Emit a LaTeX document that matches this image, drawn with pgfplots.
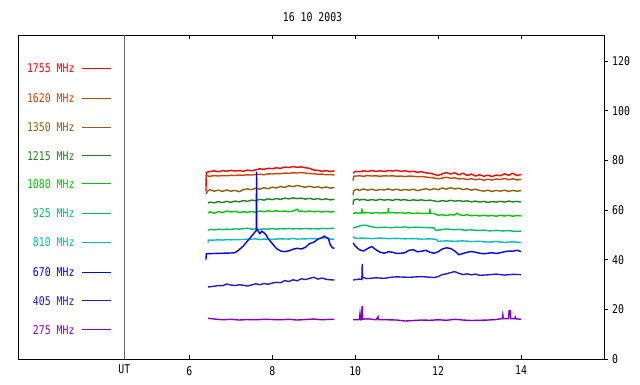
\documentclass[border=0pt]{standalone}
\usepackage{fontspec}
\setmainfont{DejaVu Sans Mono}[FakeStretch=0.82]
\setmonofont{DejaVu Sans Mono}[FakeStretch=0.82]
\usepackage{pgfplots}
\pgfplotsset{compat=1.18}
\definecolor{c1755}{RGB}{255,0,0}
\definecolor{c1620}{RGB}{200,70,0}
\definecolor{c1350}{RGB}{140,95,10}
\definecolor{c1215}{RGB}{30,130,30}
\definecolor{c1080}{RGB}{0,200,0}
\definecolor{c925}{RGB}{0,190,100}
\definecolor{c810}{RGB}{0,190,190}
\definecolor{c670}{RGB}{0,0,255}
\definecolor{c405}{RGB}{30,30,200}
\definecolor{c275}{RGB}{130,0,200}
\newcommand{\lblfont}{\fontsize{12bp}{14bp}\selectfont}
\begin{document}
\lblfont
\begin{tikzpicture}[x=1bp,y=1bp]
\useasboundingbox (0,0) rectangle (640,384);
\begin{axis}[
  at={(18.3bp,25bp)}, anchor=south west,
  scale only axis, width=585.7bp, height=324bp,
  xmin=1.875, xmax=16, ymin=0, ymax=130.5,
  clip=false,
  axis line style={black, line width=0.9bp},
  unbounded coords=jump,
  xtick={6,8,10,12,14},
  xtick pos=both, xtick align=inside,
  ytick={0,20,40,60,80,100,120},
  ytick pos=right, yticklabel pos=right,
  ytick align=outside,
  major tick length=4bp,
  tick style={black, line width=0.8bp},
  xticklabel style={font=\lblfont, yshift=-3bp},
  yticklabel style={font=\lblfont, xshift=0bp},
  /pgf/number format/assume math mode=true,
  every axis plot/.append style={line width=1.4bp, mark=none},
]
\draw[gray!80!black, line width=0.9bp] (axis cs:4.434,0) -- (axis cs:4.434,130.5);
\node[anchor=north, font=\lblfont, yshift=-2bp] at (axis cs:4.434,0) {UT};
\node[font=\lblfont] at (axis cs:8.97,137.5) {16 10 2003};
% legend entries
\addplot[c1755, line width=1bp] coordinates {(3.415,117.2) (4.113,117.2)};
\addplot[c1620, line width=1bp] coordinates {(3.415,105.1) (4.113,105.1)};
\addplot[c1350, line width=1bp] coordinates {(3.415,93.4) (4.113,93.4)};
\addplot[c1215, line width=1bp] coordinates {(3.415,81.8) (4.113,81.8)};
\addplot[c1080, line width=1bp] coordinates {(3.415,70.5) (4.113,70.5)};
\addplot[c925, line width=1bp] coordinates {(3.415,58.8) (4.113,58.8)};
\addplot[c810, line width=1bp] coordinates {(3.415,47.1) (4.113,47.1)};
\addplot[c670, line width=1bp] coordinates {(3.415,35.0) (4.113,35.0)};
\addplot[c405, line width=1bp] coordinates {(3.415,23.4) (4.113,23.4)};
\addplot[c275, line width=1bp] coordinates {(3.415,11.7) (4.113,11.7)};
\node[anchor=east, text=c1755] at (axis cs:3.33,117.2) {1755 MHz};
\node[anchor=east, text=c1620] at (axis cs:3.33,105.1) {1620 MHz};
\node[anchor=east, text=c1350] at (axis cs:3.33,93.4) {1350 MHz};
\node[anchor=east, text=c1215] at (axis cs:3.33,81.8) {1215 MHz};
\node[anchor=east, text=c1080] at (axis cs:3.33,70.5) {1080 MHz};
\node[anchor=east, text=c925] at (axis cs:3.33,58.8) {925 MHz};
\node[anchor=east, text=c810] at (axis cs:3.33,47.1) {810 MHz};
\node[anchor=east, text=c670] at (axis cs:3.33,35.0) {670 MHz};
\node[anchor=east, text=c405] at (axis cs:3.33,23.4) {405 MHz};
\node[anchor=east, text=c275] at (axis cs:3.33,11.7) {275 MHz};
% 1755 MHz
\addplot[c1755] coordinates {(6.40,67.5) (6.41,75.2) (6.5,75.5) (6.6,75.8) (6.7,75.4) (6.8,75.9) (6.9,75.6) (7.0,76.0) (7.1,75.7) (7.2,75.9) (7.3,75.6) (7.4,76.1) (7.5,75.8) (7.6,76.2) (7.7,76.6) (7.8,76.4) (7.9,76.8) (8.0,76.7) (8.1,77.0) (8.2,76.8) (8.3,77.3) (8.4,77.1) (8.5,77.5) (8.6,77.2) (8.7,77.4) (8.8,77.0) (8.9,76.8) (9.0,76.1) (9.1,76.0) (9.2,75.6) (9.3,75.9) (9.4,75.5) (9.5,75.8)
 (9.7,nan)
 (9.95,74.8) (10.0,75.6) (10.1,75.4) (10.2,75.8) (10.3,75.5) (10.4,75.9) (10.5,75.6) (10.6,75.8) (10.7,75.5) (10.8,75.9) (10.9,75.7) (11.0,76.0) (11.1,75.6) (11.2,75.8) (11.3,75.4) (11.4,75.6) (11.5,75.2) (11.6,75.4) (11.7,75.0) (11.8,74.8) (11.9,74.4) (12.0,73.9) (12.1,74.6) (12.2,75.1) (12.3,74.5) (12.4,75.0) (12.5,74.2) (12.6,74.8) (12.7,73.9) (12.8,74.5) (12.9,73.7) (13.0,74.2) (13.1,73.6) (13.2,74.0) (13.3,73.5) (13.4,74.1) (13.5,73.8) (13.6,74.6) (13.7,74.0) (13.8,74.8) (13.9,73.9) (14.0,74.3)};
% 1620 MHz
\addplot[c1620] coordinates {(6.40,72.0) (6.41,73.8) (6.5,73.6) (6.6,73.9) (6.7,73.7) (6.8,73.9) (6.9,73.8) (7.0,74.0) (7.1,73.9) (7.2,74.1) (7.3,74.0) (7.4,74.2) (7.5,74.1) (7.6,74.3) (7.7,74.4) (7.8,74.2) (7.9,74.6) (8.0,74.5) (8.1,74.7) (8.2,74.6) (8.3,74.9) (8.4,74.8) (8.5,75.0) (8.6,74.9) (8.7,75.1) (8.8,74.9) (8.9,74.7) (9.0,74.6) (9.1,74.4) (9.2,74.5) (9.3,74.2) (9.4,74.3) (9.5,74.1)
 (9.7,nan)
 (9.95,71.8) (9.96,73.6) (10.1,73.8) (10.2,73.6) (10.3,73.9) (10.4,73.7) (10.5,73.8) (10.6,73.6) (10.7,73.8) (10.8,73.7) (10.9,73.8) (11.0,73.6) (11.1,73.7) (11.2,73.5) (11.3,73.7) (11.4,73.6) (11.5,73.4) (11.6,73.5) (11.7,73.3) (11.8,73.1) (11.9,72.9) (12.0,72.6) (12.1,72.9) (12.2,73.2) (12.3,72.8) (12.4,73.0) (12.5,72.5) (12.6,72.7) (12.7,72.3) (12.8,72.6) (12.9,72.2) (13.0,72.5) (13.1,72.0) (13.2,72.4) (13.3,72.1) (13.4,72.5) (13.5,72.3) (13.6,72.7) (13.7,72.2) (13.8,72.6) (13.9,72.1) (14.0,72.4)};
% 1350 MHz
\addplot[c1350] coordinates {(6.40,66.5) (6.45,67.8) (6.5,68.2) (6.6,67.6) (6.7,68.0) (6.8,67.5) (6.9,68.1) (7.0,67.6) (7.1,67.9) (7.2,67.4) (7.3,68.2) (7.4,68.5) (7.5,68.2) (7.6,68.8) (7.7,68.4) (7.8,69.0) (7.9,68.6) (8.0,69.2) (8.1,68.9) (8.2,69.5) (8.3,69.1) (8.4,69.8) (8.5,69.4) (8.6,69.9) (8.7,69.5) (8.8,69.2) (8.9,69.6) (9.0,69.1) (9.1,69.4) (9.2,68.9) (9.3,69.3) (9.4,68.8) (9.5,69.1)
 (9.7,nan)
 (9.95,66.0) (9.96,67.8) (10.05,68.4) (10.1,67.9) (10.2,68.5) (10.3,68.0) (10.4,68.4) (10.5,67.9) (10.6,68.3) (10.7,68.1) (10.8,68.5) (10.9,68.0) (11.0,68.4) (11.1,67.9) (11.2,68.3) (11.3,68.0) (11.4,68.4) (11.5,67.8) (11.6,68.2) (11.7,68.6) (11.8,68.1) (11.9,68.6) (12.0,68.2) (12.1,68.9) (12.2,68.4) (12.3,69.0) (12.4,68.5) (12.5,68.8) (12.6,68.2) (12.7,68.6) (12.8,68.0) (12.9,68.4) (13.0,67.9) (13.1,67.6) (13.2,68.0) (13.3,67.5) (13.4,67.9) (13.5,67.6) (13.6,68.0) (13.7,67.5) (13.8,67.9) (13.9,67.6) (14.0,67.8)};
% 1215 MHz
\addplot[c1215] coordinates {(6.45,62.8) (6.5,63.2) (6.6,62.9) (6.7,63.4) (6.8,63.0) (6.9,63.5) (7.0,63.1) (7.1,63.6) (7.2,63.3) (7.3,63.8) (7.4,63.5) (7.5,64.0) (7.6,63.8) (7.7,64.3) (7.8,64.0) (7.9,64.5) (8.0,64.2) (8.1,64.6) (8.2,64.3) (8.3,64.8) (8.4,64.5) (8.5,64.9) (8.6,64.6) (8.7,64.8) (8.8,64.4) (8.9,64.7) (9.0,64.3) (9.1,64.6) (9.2,64.2) (9.3,64.5) (9.4,64.1) (9.5,64.3)
 (9.7,nan)
 (9.95,62.2) (9.96,64.0) (10.05,64.4) (10.1,64.0) (10.2,64.3) (10.3,63.9) (10.4,64.2) (10.5,63.9) (10.6,64.3) (10.7,64.0) (10.8,64.2) (10.9,63.9) (11.0,64.3) (11.1,64.0) (11.2,64.2) (11.3,63.8) (11.4,64.1) (11.5,63.9) (11.6,64.1) (11.7,63.8) (11.8,64.0) (11.9,63.7) (12.0,63.4) (12.1,63.8) (12.2,63.5) (12.3,63.9) (12.4,63.6) (12.5,63.8) (12.6,63.5) (12.7,63.7) (12.8,63.3) (12.9,63.6) (13.0,63.2) (13.1,63.5) (13.2,63.1) (13.3,63.4) (13.4,63.2) (13.5,63.5) (13.6,63.2) (13.7,63.6) (13.8,63.3) (13.9,63.5) (14.0,63.2)};
% 1080 MHz
\addplot[c1080] coordinates {(6.45,58.8) (6.5,59.3) (6.6,58.7) (6.7,59.4) (6.8,59.0) (6.9,59.6) (7.0,59.2) (7.1,59.5) (7.2,59.0) (7.3,59.3) (7.4,59.1) (7.5,59.4) (7.6,59.1) (7.7,59.6) (7.8,59.3) (7.9,59.7) (8.0,59.4) (8.1,59.7) (8.2,59.4) (8.3,59.6) (8.4,59.3) (8.5,59.6) (8.6,60.3) (8.65,59.4) (8.7,59.6) (8.8,59.3) (8.9,59.6) (9.0,59.3) (9.1,59.5) (9.2,59.2) (9.3,59.5) (9.4,59.2) (9.5,59.3)
 (9.7,nan)
 (9.95,58.6) (10.0,58.9) (10.1,58.7) (10.15,58.9) (10.16,60.6) (10.17,58.8) (10.3,59.0) (10.4,58.7) (10.5,59.0) (10.6,58.8) (10.79,58.9) (10.8,60.8) (10.81,58.9) (10.9,59.0) (11.0,58.8) (11.1,59.0) (11.2,58.7) (11.3,58.9) (11.4,58.6) (11.5,58.8) (11.6,58.6) (11.79,58.7) (11.8,60.5) (11.81,58.6) (11.9,58.6) (12.0,57.9) (12.1,58.1) (12.2,57.8) (12.3,58.1) (12.4,58.0) (12.45,58.7) (12.5,58.2) (12.6,57.8) (12.7,58.1) (12.8,57.7) (12.9,57.9) (13.0,57.6) (13.1,57.9) (13.2,57.6) (13.3,57.8) (13.4,57.5) (13.5,57.9) (13.6,57.6) (13.7,57.9) (13.8,57.5) (13.9,57.8) (14.0,57.6)};
% 925 MHz
\addplot[c925] coordinates {(6.45,51.8) (6.5,52.2) (6.6,52.0) (6.7,52.3) (6.8,52.1) (6.9,52.3) (7.0,52.2) (7.1,52.4) (7.2,52.3) (7.3,52.5) (7.4,52.7) (7.5,52.3) (7.6,52.4) (7.7,52.2) (7.8,52.4) (7.9,52.3) (8.0,52.5) (8.1,52.3) (8.2,52.5) (8.3,52.4) (8.4,52.6) (8.5,52.4) (8.6,52.5) (8.7,52.4) (8.8,52.6) (8.9,52.4) (9.0,52.5) (9.1,52.4) (9.2,52.6) (9.3,52.5) (9.4,52.6) (9.5,52.6)
 (9.7,nan)
 (9.95,52.8) (10.05,53.3) (10.15,53.8) (10.25,53.9) (10.35,53.4) (10.45,53.1) (10.55,52.9) (10.7,53.1) (10.85,52.9) (11.0,53.1) (11.1,53.0) (11.2,53.2) (11.3,52.9) (11.45,53.1) (11.6,53.0) (11.75,52.9) (11.9,52.8) (11.95,51.8) (12.05,52.0) (12.2,52.4) (12.35,52.1) (12.5,52.2) (12.65,51.9) (12.8,52.0) (12.95,51.8) (13.1,51.9) (13.25,51.6) (13.4,51.8) (13.55,51.6) (13.7,51.7) (13.85,51.4) (14.0,51.5)};
% 810 MHz
\addplot[c810] coordinates {(6.45,46.9) (6.46,47.9) (6.6,47.9) (6.7,48.0) (6.8,47.9) (6.9,48.1) (7.0,48.0) (7.2,48.1) (7.4,48.2) (7.6,48.4) (7.7,48.1) (7.8,48.3) (8.0,48.2) (8.2,48.4) (8.4,48.3) (8.5,48.6) (8.6,48.3) (8.8,48.4) (9.0,48.5) (9.1,48.4) (9.2,48.9) (9.3,48.7) (9.4,48.3) (9.5,48.3)
 (9.7,nan)
 (9.95,49.3) (10.0,48.6) (10.2,48.7) (10.4,48.5) (10.6,48.7) (10.8,48.5) (11.0,48.6) (11.2,48.4) (11.4,48.5) (11.6,48.3) (11.8,48.4) (11.95,48.2) (12.0,47.4) (12.2,47.6) (12.4,47.4) (12.6,47.6) (12.8,47.3) (13.0,47.4) (13.2,47.1) (13.4,47.3) (13.6,47.0) (13.8,47.2) (14.0,46.9)};
% 670 MHz
\addplot[c670] coordinates {(6.40,40.0) (6.41,42.4) (6.6,42.5) (6.8,42.6) (7.0,42.7) (7.1,42.8) (7.2,44.0) (7.3,45.5) (7.4,47.5) (7.5,49.5) (7.6,51.5) (7.615,51.8) (7.62,75.5) (7.625,51.8) (7.64,52.0) (7.7,50.5) (7.75,51.5) (7.8,50.8) (7.85,50.0) (7.9,48.5) (8.0,46.5) (8.1,44.5) (8.2,43.5) (8.3,43.2) (8.4,43.6) (8.5,44.2) (8.6,44.6) (8.7,44.3) (8.8,45.0) (8.9,46.5) (9.0,47.0) (9.1,48.3) (9.2,48.8) (9.25,49.5) (9.3,49.0) (9.35,48.6) (9.4,46.0) (9.45,44.8) (9.5,44.6)
 (9.7,nan)
 (9.95,46.8) (10.0,45.5) (10.1,44.0) (10.2,43.5) (10.3,44.5) (10.4,45.3) (10.5,44.0) (10.6,43.0) (10.7,42.6) (10.8,43.2) (10.9,43.0) (11.0,42.5) (11.1,42.6) (11.2,42.8) (11.3,43.8) (11.4,44.0) (11.5,43.2) (11.6,43.4) (11.7,43.8) (11.8,43.0) (11.9,42.6) (12.0,43.2) (12.1,44.3) (12.2,44.8) (12.3,44.5) (12.4,43.5) (12.5,42.0) (12.6,42.5) (12.7,43.0) (12.8,43.3) (12.9,43.0) (13.0,42.6) (13.1,42.4) (13.2,42.6) (13.3,42.8) (13.4,42.5) (13.5,42.8) (13.6,43.2) (13.7,43.5) (13.8,43.4) (13.9,43.8) (14.0,43.3)};
% 405 MHz
\addplot[c405] coordinates {(6.45,29.0) (6.6,29.3) (6.7,29.6) (6.8,29.5) (6.9,30.2) (7.0,29.8) (7.1,29.6) (7.2,29.9) (7.3,29.7) (7.4,29.4) (7.5,29.8) (7.6,30.3) (7.7,29.9) (7.8,30.4) (7.9,30.1) (8.0,30.6) (8.1,30.9) (8.2,30.7) (8.3,31.6) (8.4,31.2) (8.5,31.9) (8.6,31.5) (8.7,32.3) (8.8,32.0) (8.9,32.5) (9.0,32.9) (9.1,32.2) (9.2,32.6) (9.3,32.1) (9.4,31.9) (9.5,31.8)
 (9.7,nan)
 (9.95,31.8) (10.1,32.2) (10.16,32.0) (10.17,38.3) (10.18,32.8) (10.3,32.4) (10.5,32.7) (10.7,32.5) (10.9,33.0) (11.0,33.1) (11.3,32.9) (11.6,33.2) (11.9,32.8) (12.0,33.2) (12.1,34.0) (12.2,34.3) (12.3,34.8) (12.4,35.2) (12.5,34.5) (12.6,34.0) (12.7,34.3) (12.8,33.9) (12.9,34.2) (13.0,33.7) (13.2,33.9) (13.4,34.2) (13.6,33.8) (13.8,34.1) (14.0,34.0)};
% 275 MHz
\addplot[c275] coordinates {(6.45,16.4) (6.6,16.1) (6.8,15.8) (7.0,16.0) (7.2,15.7) (7.4,15.9) (7.6,15.8) (7.8,16.0) (8.0,15.9) (8.2,15.8) (8.4,16.0) (8.6,15.7) (8.8,15.9) (9.0,16.1) (9.2,15.8) (9.4,16.0) (9.5,16.0)
 (9.7,nan)
 (9.95,15.8) (10.1,15.9) (10.115,18.2) (10.13,15.8) (10.155,15.9) (10.165,21.4) (10.175,16.0) (10.3,16.2) (10.5,15.8) (10.55,17.0) (10.56,15.8) (10.8,15.8) (11.0,15.7) (11.2,15.3) (11.4,15.5) (11.6,15.7) (11.8,15.6) (12.0,15.8) (12.2,15.6) (12.4,16.0) (12.6,15.7) (12.8,15.5) (13.0,15.6) (13.2,15.7) (13.4,15.9) (13.55,16.3) (13.56,17.7) (13.57,16.2) (13.70,16.3) (13.71,19.4) (13.74,19.4) (13.75,16.2) (13.85,16.3) (13.86,16.8) (13.87,16.2) (14.0,16.0)};
\end{axis}
\end{tikzpicture}
\end{document}
